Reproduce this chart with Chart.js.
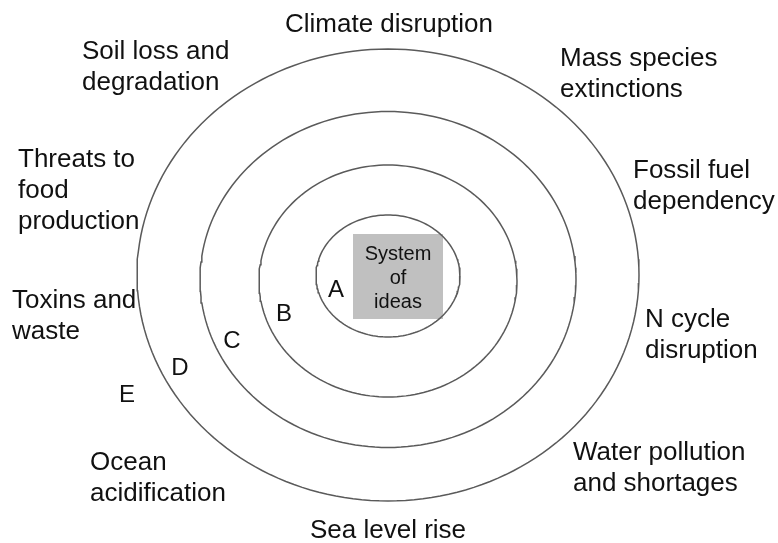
<!DOCTYPE html>
<html>
<head>
<meta charset="utf-8">
<script src="https://cdn.jsdelivr.net/npm/chart.js@4.4.1/dist/chart.umd.min.js"></script>
<style>
  html, body { margin: 0; padding: 0; background: #fff; }
  #wrap { width: 778px; height: 543px; position: relative; }
</style>
</head>
<body>
<div id="wrap"><canvas id="myChart"></canvas></div>
<script>
// ring data (units = px, origin at outer ring centre, y grows downward)
const ringNames = ['inner', 'third', 'second', 'outer'];
const ringRadiusX = [72, 129, 188, 251];
const ringRadiusY = [61, 116, 168, 226];
const ringCenterY = [1, 6, 4.5, 0];

// zone letters A..E
const zoneLetters = ['A', 'B', 'C', 'D', 'E'];
const zoneX = [-52, -104, -156, -208, -261];
const zoneY = [15, 39, 66, 93, 120];

// outer labels
const threatLabels = [
  ['Climate disruption'],
  ['Soil loss and', 'degradation'],
  ['Mass species', 'extinctions'],
  ['Threats to', 'food', 'production'],
  ['Fossil fuel', 'dependency'],
  ['Toxins and', 'waste'],
  ['N cycle', 'disruption'],
  ['Ocean', 'acidification'],
  ['Water pollution', 'and shortages'],
  ['Sea level rise']
];
const threatX = [1, -306, 172, -370, 245, -376, 257, -298, 185, 0];
const threatY = [-243, -216, -209, -108, -97, 33, 52, 195, 185, 263];
const threatAlign = ['center', 'left', 'left', 'left', 'left', 'left', 'left', 'left', 'left', 'center'];

const coreText = ['System', 'of', 'ideas'];

// build ellipse outlines as line datasets
function ringPoints(i) {
  const pts = [];
  for (let a = 0; a <= 360; a += 2) {
    const t = a * Math.PI / 180;
    pts.push({ x: ringRadiusX[i] * Math.cos(t), y: ringCenterY[i] + ringRadiusY[i] * Math.sin(t) });
  }
  return pts;
}

const datasets = ringNames.map((name, i) => ({
  label: name,
  data: ringPoints(i),
  showLine: true,
  borderColor: '#5a5a5a',
  borderWidth: 1.5,
  pointRadius: 0,
  tension: 0,
  fill: false
}));

const labelPlugin = {
  id: 'labels',
  beforeDatasetsDraw(chart) {
    const { ctx, scales: { x, y } } = chart;
    // grey box behind "System of ideas"
    const x0 = x.getPixelForValue(-35), x1 = x.getPixelForValue(55);
    const y0 = y.getPixelForValue(-41), y1 = y.getPixelForValue(44);
    ctx.save();
    ctx.fillStyle = '#c0c0c0';
    ctx.fillRect(x0, y0, x1 - x0, y1 - y0);
    ctx.restore();
  },
  afterDatasetsDraw(chart) {
    const { ctx, scales: { x, y } } = chart;
    ctx.save();
    ctx.fillStyle = '#111111';
    ctx.textBaseline = 'alphabetic';
    ctx.font = '26px "Liberation Sans", Arial, sans-serif';
    threatLabels.forEach((lines, i) => {
      ctx.textAlign = threatAlign[i];
      lines.forEach((line, j) => {
        ctx.fillText(line, x.getPixelForValue(threatX[i]), y.getPixelForValue(threatY[i] + j * 31));
      });
    });

    ctx.font = '24px "Liberation Sans", Arial, sans-serif';
    ctx.textAlign = 'center';
    ctx.textBaseline = 'middle';
    zoneLetters.forEach((l, i) => {
      ctx.fillText(l, x.getPixelForValue(zoneX[i]), y.getPixelForValue(zoneY[i]));
    });

    ctx.font = '20px "Liberation Sans", Arial, sans-serif';
    ctx.textBaseline = 'alphabetic';
    coreText.forEach((line, j) => {
      ctx.fillText(line, x.getPixelForValue(10), y.getPixelForValue(-15 + j * 24));
    });
    ctx.restore();
  }
};

new Chart(document.getElementById('myChart').getContext('2d'), {
  type: 'scatter',
  data: { datasets: datasets },
  options: {
    responsive: true,
    maintainAspectRatio: false,
    animation: false,
    layout: { padding: 0 },
    plugins: { legend: { display: false }, tooltip: { enabled: false } },
    scales: {
      x: { type: 'linear', min: -388, max: 390, display: false },
      y: { type: 'linear', min: -275, max: 268, reverse: true, display: false }
    }
  },
  plugins: [labelPlugin]
});
</script>
</body>
</html>
